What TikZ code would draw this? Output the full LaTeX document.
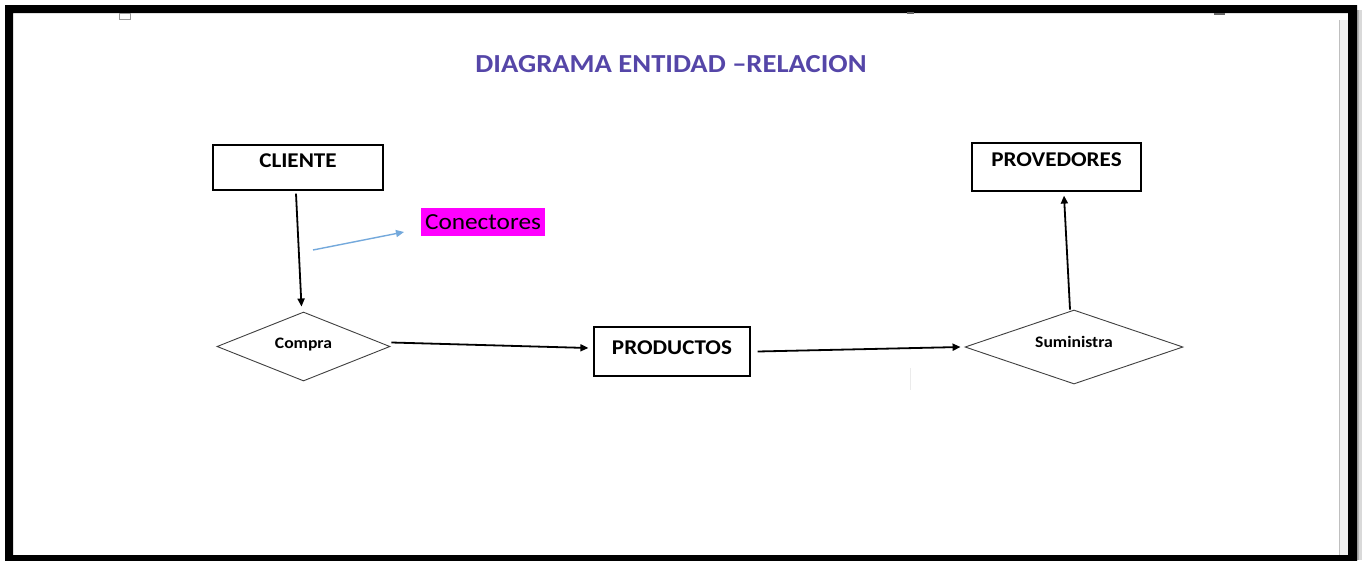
\documentclass[tikz,border=0pt]{standalone}
\usepackage{fontspec}
\newfontfamily\cf{Carlito}[FakeStretch=1.1]
\usetikzlibrary{shapes.geometric,arrows.meta}
\definecolor{titlec}{HTML}{5546A8}
\definecolor{conblue}{HTML}{74A9DC}
\definecolor{mag}{HTML}{FF00FF}
\begin{document}
\begin{tikzpicture}[x=1pt,y=-1pt,
  ebox/.style={draw=black,line width=1.2pt,inner sep=0pt,anchor=base,font=\cf\bfseries\fontsize{21}{21}\selectfont},
  rel/.style={diamond,draw=black!75,line width=0.9pt,inner sep=0pt,aspect=2.5,font=\cf\bfseries\fontsize{16}{16}\selectfont},
  arr/.style={draw=black,line width=1.8pt,-{Triangle[length=8pt,width=7pt]}},
  thinarr/.style={draw=conblue,line width=1.4pt,-{Triangle[length=8pt,width=7pt]}}
]
\useasboundingbox (0,0) rectangle (1366,560);
\fill[white] (0,0) rectangle (1366,560);
% frame and window details
\fill[black!6] (1340,20) rectangle (1348,555);
\draw[black!25,line width=1pt] (1339.5,20) -- (1339.5,555);
\fill[black!30] (1357,10) rectangle (1359,560);
\fill[black!15] (1359,10) rectangle (1362,560);
\fill[black,even odd rule] (5,5) rectangle (1357,565) (13,13) rectangle (1348,555);
\draw[black!40,line width=1pt] (119.5,13) rectangle (130,19);
\fill[black!60] (1214,13) rectangle (1225,14.5);
\fill[black!60] (907,12) rectangle (914,13.5);
\draw[black!8,line width=1pt] (910,368) -- (910,390);
% title
\node[text=titlec,font=\cf\bfseries\fontsize{26}{26}\selectfont] (title) at (671,64) {DIAGRAMA ENTIDAD –RELACION};
% entities
\node[ebox,minimum width=170pt,text height=22pt,text depth=23pt] (cliente) at (298,167) {CLIENTE};
\node[ebox,minimum width=156pt,text height=27pt,text depth=22pt] (productos) at (672,354) {PRODUCTOS};
\node[ebox,minimum width=169pt,text height=23pt,text depth=25pt] (provedores) at (1056.5,166) {PROVEDORES};
% relations
\node[rel,minimum width=173pt,minimum height=69pt,text depth=7.5pt] (compra) at (303.5,346.5) {Compra};
\node[rel,minimum width=218pt,minimum height=74pt,text depth=10pt] (suministra) at (1074,347) {Suministra};
% label
\node[fill=mag,text=black,inner sep=0pt,minimum width=124pt,minimum height=28pt,font=\cf\fontsize{23}{23}\selectfont] (conectores) at (483,222) {Conectores};
\coordinate (bstart) at (313,250);
\coordinate (bend) at (404,232);
\draw[thinarr] (bstart) -- (bend);
% connectors
\draw[arr] ([xshift=-2pt,yshift=-3pt]cliente.south) -- ([xshift=-2pt,yshift=5pt]compra.north);
\draw[arr] ([xshift=1pt,yshift=4pt]compra.east) -- ([xshift=-5pt,yshift=3.5pt]productos.west);
\draw[arr] ([xshift=7pt]productos.east) -- ([xshift=-4pt]suministra.west);
\draw[arr] ([xshift=-4pt]suministra.north) -- ([xshift=7.5pt,yshift=-4pt]provedores.south);
\end{tikzpicture}
\end{document}
